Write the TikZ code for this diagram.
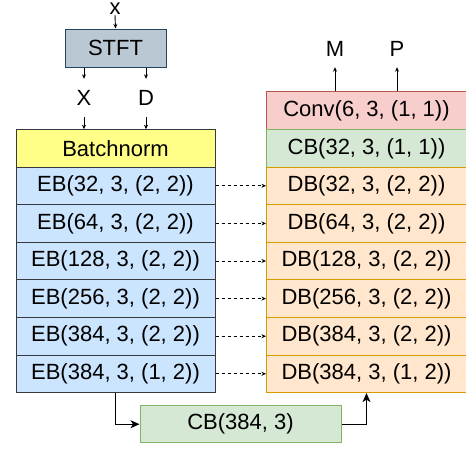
\documentclass[tikz,border=0pt]{standalone}
\usepackage{fontspec}
\setmainfont{Liberation Sans}
\usetikzlibrary{arrows.meta}

\definecolor{ebfill}{HTML}{CCE5FF}
\definecolor{darkline}{HTML}{36393D}
\definecolor{bnfill}{HTML}{FFFF88}
\definecolor{stftfill}{HTML}{BAC8D3}
\definecolor{stftline}{HTML}{23445D}
\definecolor{dbfill}{HTML}{FFE6CC}
\definecolor{dbline}{HTML}{D79B00}
\definecolor{cbfill}{HTML}{D5E8D4}
\definecolor{cbline}{HTML}{82B366}
\definecolor{convfill}{HTML}{F8CECC}
\definecolor{convline}{HTML}{B85450}

\tikzset{
  lbl/.style={font=\fontsize{22}{26}\selectfont, inner sep=0pt},
  layer/.style={lbl, draw, line width=1pt, minimum width=199pt, minimum height=37.6pt},
  enc/.style={layer, fill=ebfill, draw=darkline},
  dec/.style={layer, fill=dbfill, draw=dbline},
  tinyarrow/.style={line width=0.9pt, -{Stealth[length=4.5pt,width=4pt]}},
  skiparrow/.style={tinyarrow, dash pattern=on 3pt off 3pt},
  bigarrow/.style={line width=1pt, -{Stealth[length=9pt,width=8pt,inset=2.5pt]}},
}

\begin{document}
\begin{tikzpicture}[x=1pt,y=-1pt]
\useasboundingbox (0,0) rectangle (466,448);

% input and STFT
\node[lbl, anchor=south] (xin) at (115,15) {x};
\node[lbl, draw=stftline, fill=stftfill, line width=1pt, minimum width=101pt, minimum height=38pt] (stft) at (115.5,48) {STFT};
\node[lbl, minimum height=38pt] (magX) at (84,98) {X};
\node[lbl, minimum height=38pt] (phD) at (146,98) {D};

% encoder stack
\node[layer, fill=bnfill, draw=darkline] (bn) at (115.5,148.5) {Batchnorm};
\node[enc] (e1) at (115.5,185.8) {EB(32, 3, (2, 2))};
\node[enc] (e2) at (115.5,223.4) {EB(64, 3, (2, 2))};
\node[enc] (e3) at (115.5,261.0) {EB(128, 3, (2, 2))};
\node[enc] (e4) at (115.5,298.6) {EB(256, 3, (2, 2))};
\node[enc] (e5) at (115.5,336.2) {EB(384, 3, (2, 2))};
\node[enc] (e6) at (115.5,373.8) {EB(384, 3, (1, 2))};

% decoder stack
\node[layer, fill=convfill, draw=convline, minimum width=200pt] (conv) at (366.5,110.7) {Conv(6, 3, (1, 1))};
\node[layer, fill=cbfill, draw=cbline, minimum width=200pt] (cb) at (366.5,148.5) {CB(32, 3, (1, 1))};
\node[dec, minimum width=200pt] (d1) at (366.5,185.8) {DB(32, 3, (2, 2))};
\node[dec, minimum width=200pt] (d2) at (366.5,223.4) {DB(64, 3, (2, 2))};
\node[dec, minimum width=200pt] (d3) at (366.5,261.0) {DB(128, 3, (2, 2))};
\node[dec, minimum width=200pt] (d4) at (366.5,298.6) {DB(256, 3, (2, 2))};
\node[dec, minimum width=200pt] (d5) at (366.5,336.2) {DB(384, 3, (2, 2))};
\node[dec, minimum width=200pt] (d6) at (366.5,373.8) {DB(384, 3, (1, 2))};

% outputs
\node[lbl, minimum height=36pt] (outM) at (335,49) {M};
\node[lbl, minimum height=36pt] (outP) at (397,49) {P};

% bottleneck
\node[layer, fill=cbfill, draw=cbline, minimum width=201pt, minimum height=37pt] (bott) at (240.5,424.2) {CB(384, 3)};

% input connectors
\draw[tinyarrow] (xin.south) -- (stft.north);
\draw[tinyarrow] (stft.south -| magX) -- (magX.north);
\draw[tinyarrow] (stft.south -| phD) -- (phD.north);
\draw[tinyarrow] (magX.south) -- (bn.north -| magX);
\draw[tinyarrow] (phD.south) -- (bn.north -| phD);

% output connectors
\draw[tinyarrow] (conv.north -| outM) -- (outM.south);
\draw[tinyarrow] (conv.north -| outP) -- (outP.south);

% skip connections
\foreach \i in {1,...,6}
  \draw[skiparrow] (e\i.east) -- (d\i.west);

% bottleneck path
\draw[bigarrow] (e6.south) |- (bott.west);
\draw[bigarrow] (bott.east) -| (d6.south);
\end{tikzpicture}
\end{document}
